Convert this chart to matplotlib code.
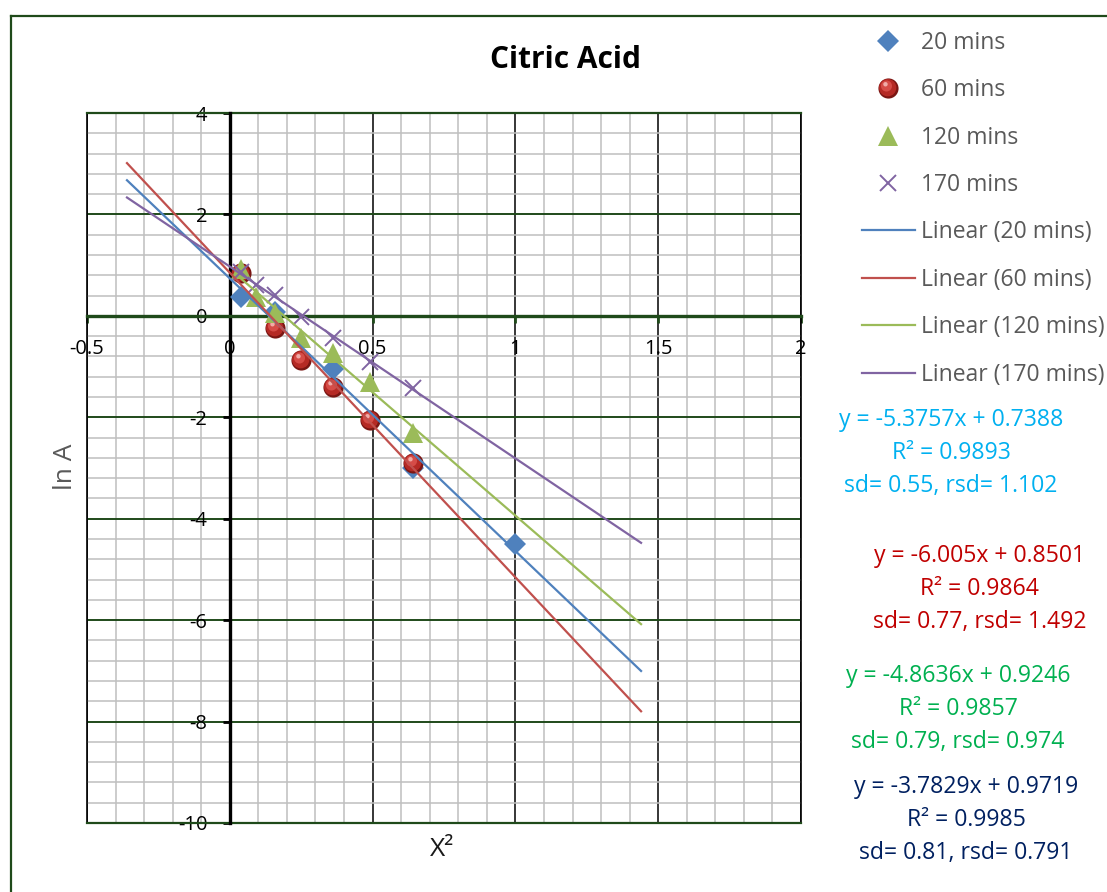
import matplotlib
matplotlib.use("Agg")
import matplotlib.pyplot as plt
from matplotlib.lines import Line2D
from matplotlib.path import Path
from matplotlib.ticker import MultipleLocator, FuncFormatter
from matplotlib.legend_handler import HandlerTuple
import numpy as np

plt.rcParams['font.family'] = ['Open Sans', 'DejaVu Sans']
plt.rcParams['axes.unicode_minus'] = False

# measured points (x = X^2, y = ln A)
x_20 = [0.04, 0.16, 0.36, 0.64, 1.0]
y_20 = [0.38, 0.08, -1.05, -3.0, -4.50]
x_60 = [0.04, 0.16, 0.25, 0.36, 0.49, 0.64]
y_60 = [0.84, -0.24, -0.87, -1.40, -2.05, -2.90]
x_120 = [0.04, 0.09, 0.16, 0.25, 0.36, 0.49, 0.64]
y_120 = [0.92, 0.37, 0.06, -0.44, -0.74, -1.30, -2.31]
x_170 = [0.04, 0.09, 0.16, 0.25, 0.36, 0.49, 0.64]
y_170 = [0.87, 0.61, 0.41, -0.02, -0.44, -0.90, -1.42]

series = ['20 mins', '60 mins', '120 mins', '170 mins']

# linear fits and the x-span each trendline covers
slopes = [-5.3757, -6.005, -4.8636, -3.7829]
intercepts = [0.7388, 0.8501, 0.9246, 0.9719]
r2 = ['0.9893', '0.9864', '0.9857', '0.9985']
sd = ['0.55', '0.77', '0.79', '0.81']
rsd = ['1.102', '1.492', '0.974', '0.791']
fit_from = [-0.36, -0.36, 0.04, -0.36]
fit_to = [1.44, 1.44, 1.44, 1.44]

line_colors = ['#4F81BD', '#C0504D', '#9BBB59', '#8064A2']
text_colors = ['#00B0F0', '#C00000', '#00B050', '#002060']
dark_green = '#1F4A1A'

W, H = 1107, 892
fig = plt.figure(figsize=(W / 100, H / 100), dpi=100)
ax = fig.add_axes([87 / W, 1 - 823 / H, (801 - 87) / W, (823 - 113) / H])

ax.set_xlim(-0.5, 2)
ax.set_ylim(-10, 4)
ax.xaxis.set_major_locator(MultipleLocator(0.5))
ax.xaxis.set_minor_locator(MultipleLocator(0.1))
ax.yaxis.set_major_locator(MultipleLocator(2))
ax.yaxis.set_minor_locator(MultipleLocator(0.4))
ax.xaxis.set_major_formatter(FuncFormatter(lambda v, p: f'{v:g}'))
ax.yaxis.set_major_formatter(FuncFormatter(lambda v, p: f'{v:g}'))

# grid: grey minor cells, black verticals, dark green horizontals
ax.set_axisbelow(True)
ax.grid(which='minor', color='#BFBFBF', linewidth=1.1)
ax.grid(which='major', axis='x', color='black', linewidth=1.1)
ax.grid(which='major', axis='y', color=dark_green, linewidth=1.4)

# axes cross at the origin
for s in ['top', 'right']:
    ax.spines[s].set_visible(False)
ax.spines['left'].set_position(('data', 0))
ax.spines['bottom'].set_position(('data', 0))
ax.spines['left'].set_color('black')
ax.spines['left'].set_linewidth(2.4)
ax.spines['bottom'].set_color(dark_green)
ax.spines['bottom'].set_linewidth(2.4)
ax.tick_params(which='minor', length=0)
ax.tick_params(axis='y', which='major', direction='out', length=5, width=2,
               color='black', labelsize=14.5, pad=11)
ax.tick_params(axis='x', which='major', direction='out', length=5, width=2,
               color=dark_green, labelsize=14.5, pad=12)

# plot-area frame
ax.axvline(-0.5, color='black', lw=1.2, clip_on=False, zorder=1)
ax.axvline(2, color='black', lw=1.2, clip_on=False, zorder=1)
ax.axhline(4, color=dark_green, lw=1.6, clip_on=False, zorder=1)
ax.axhline(-10, color=dark_green, lw=1.6, clip_on=False, zorder=1)


def ball_layer(cx, cy, r):
    # offset circle used as a marker; returns path and size factor
    return Path.circle((cx, cy), r), max(abs(cx) + r, abs(cy) + r)


ball_ms = 14.5
ball_parts = [
    ((0.0, 0.0, 1.0), '#7A1613', 1.0),
    ((-0.08, 0.08, 0.86), '#B52A25', 1.0),
    ((-0.2, 0.25, 0.55), '#D9504B', 0.9),
    ((-0.3, 0.42, 0.22), '#F4B7B4', 0.9),
]


def ball_handles(xs, ys):
    out = []
    for (cx, cy, r), col, a in ball_parts:
        p, m = ball_layer(cx, cy, r)
        ln, = ax.plot(xs, ys, linestyle='none', marker=p, markersize=ball_ms * m,
                      markerfacecolor=col, markeredgewidth=0, alpha=a, zorder=3)
        out.append(ln)
    return tuple(out)


h20, = ax.plot(x_20, y_20, linestyle='none', marker='D', markersize=11,
               color=line_colors[0], markeredgewidth=0, zorder=3)
h60 = ball_handles(x_60, y_60)
h120, = ax.plot(x_120, y_120, linestyle='none', marker='^', markersize=14,
                color=line_colors[2], markeredgewidth=0, zorder=3)
h170, = ax.plot(x_170, y_170, linestyle='none', marker='x', markersize=12,
                color=line_colors[3], markeredgewidth=1.4, zorder=3)

trend_handles = []
for k in range(4):
    xx = np.array([fit_from[k], fit_to[k]])
    ln, = ax.plot(xx, slopes[k] * xx + intercepts[k], color=line_colors[k],
                  lw=1.6, zorder=4)
    trend_handles.append(ln)

handles = [h20, h60, h120, h170] + trend_handles
labels = series + [f'Linear ({s})' for s in series]
fig.legend(handles, labels, loc='upper left', bbox_to_anchor=(862 / W, 1 - 31 / H),
           frameon=False, fontsize=16.5, labelcolor='#595959', handlelength=2.3,
           handletextpad=0.28, labelspacing=1.02, borderpad=0, borderaxespad=0,
           handler_map={tuple: HandlerTuple(ndivide=1, pad=0)})

# fit equations beside the chart
centers = [(951, 420), (980, 556), (958, 676), (966, 787)]
for k in range(4):
    cx, cy = centers[k]
    lines = [f'y = {slopes[k]:g}x + {intercepts[k]:g}',
             f'R² = {r2[k]}',
             f'sd= {sd[k]}, rsd= {rsd[k]}']
    for j, t in enumerate(lines):
        fig.text(cx / W, 1 - (cy + 33 * j) / H, t, color=text_colors[k],
                 fontsize=16.6, ha='center', va='center')

fig.text(566 / W, 1 - 60 / H, 'Citric Acid', fontsize=21.5, fontweight='bold',
         ha='center', va='center')
fig.text(66 / W, 1 - 467 / H, 'ln A', fontsize=19, color='#595959',
         rotation=90, ha='center', va='center')
fig.text(442 / W, 1 - 849 / H, 'X²', fontsize=19, color='#1A1A1A',
         ha='center', va='center')

# outer chart border
fig.add_artist(Line2D([11 / W, 11 / W], [0, 1 - 16 / H], color=dark_green, lw=1.6))
fig.add_artist(Line2D([11 / W, 1], [1 - 16 / H, 1 - 16 / H], color=dark_green, lw=1.6))

fig.savefig('out.png', dpi=100, facecolor='white')
